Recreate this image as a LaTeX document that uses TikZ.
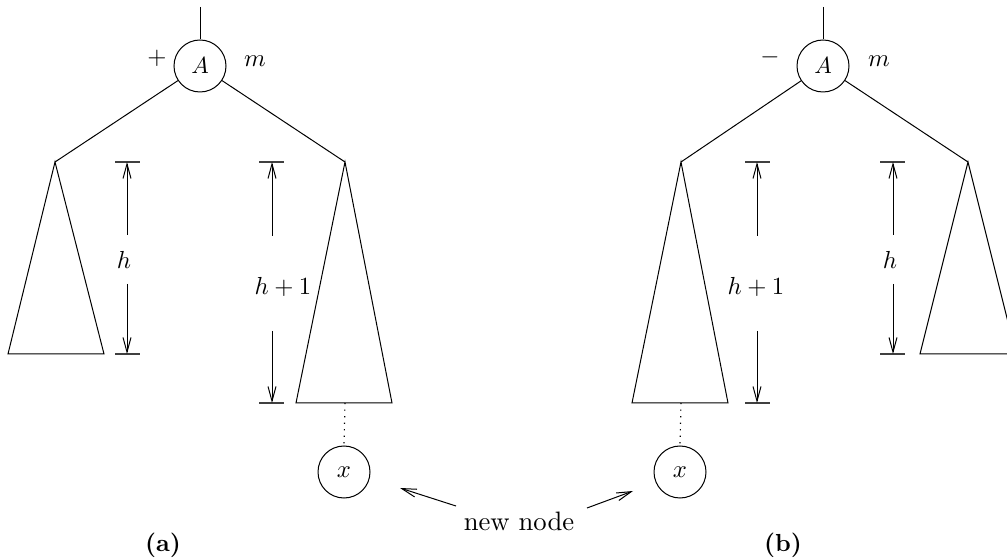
\documentclass[tikz,border=0pt]{standalone}
\usepackage{graphicx}
\usetikzlibrary{arrows.meta}
\newcommand{\mlab}[1]{\scalebox{1.85}{$#1$}}
\newcommand{\alab}[1]{\scalebox{1.75}{$#1$}}
\newcommand{\tlab}[1]{\scalebox{2.0}{#1}}
\newcommand{\blab}[1]{\scalebox{1.85}{\bfseries #1}}
\begin{document}
\begin{tikzpicture}[x=0.75pt,y=-0.75pt,
  ln/.style={line width=0.75pt},
  dots/.style={line width=0.9pt,dash pattern=on 0.9pt off 4pt},
  circ/.style={draw,circle,line width=0.75pt,minimum size=39pt,inner sep=0pt},
  tick/.style={line width=0.9pt,black!75},
  dim/.style={line width=0.75pt,-{Straight Barb[length=11pt,width=6pt]}},
  lab/.style={inner sep=1pt}]
\useasboundingbox (0,0) rectangle (1007,559);
% ---------- (a)
\node[circ] (A1) at (200,66) {\alab{A}};
\coordinate (A1top) at (200,7);
\draw[ln] (A1top) -- (A1.north);
\node[lab] (p1) at (157,58) {\mlab{+}};
\node[lab] (m1) at (255,61) {\mlab{m}};
\coordinate (La) at (55,162); \coordinate (Lb) at (8,354); \coordinate (Lc) at (104,354);
\coordinate (Ra) at (345,162); \coordinate (Rb) at (296,403); \coordinate (Rc) at (392,403);
\draw[ln] (A1) -- (La);
\draw[ln] (A1) -- (Ra);
\draw[ln] (La) -- (Lb) -- (Lc) -- cycle;
\draw[ln] (Ra) -- (Rb) -- (Rc) -- cycle;
% h
\draw[tick] (115,162) -- (140,162);
\draw[tick] (115,354) -- (140,354);
\node[lab] (h1) at (124,260) {\mlab{h}};
\coordinate (h1t) at (127,162); \coordinate (h1b) at (127,354);
\draw[dim] (127,235) -- (h1t);
\draw[dim] (127,284) -- (h1b);
% h+1
\draw[tick] (259,162) -- (284,162);
\draw[tick] (259,403) -- (284,403);
\node[lab] (h2) at (283,287) {\mlab{h+1}};
\coordinate (h2t) at (272,162); \coordinate (h2b) at (272,403);
\draw[dim] (272,236) -- (h2t);
\draw[dim] (272,331) -- (h2b);
% x
\node[circ] (x1) at (344,472) {\mlab{x}};
\coordinate (Rm) at (345,403);
\draw[dots] (Rm) -- (x1.north);
\node[lab] (la) at (163,545) {\blab{(a)}};
% ---------- (b)
\node[circ] (A2) at (823,66) {\alab{A}};
\coordinate (A2top) at (823,7);
\draw[ln] (A2top) -- (A2.north);
\node[lab] (p2) at (770,57) {\mlab{-}};
\node[lab] (m2) at (879,61) {\mlab{m}};
\coordinate (La2) at (681,162); \coordinate (Lb2) at (632,403); \coordinate (Lc2) at (728,403);
\coordinate (Ra2) at (968,162); \coordinate (Rb2) at (920,354); \coordinate (Rc2) at (1016,354);
\draw[ln] (A2) -- (La2);
\draw[ln] (A2) -- (Ra2);
\draw[ln] (La2) -- (Lb2) -- (Lc2) -- cycle;
\draw[ln] (Ra2) -- (Rb2) -- (Rc2) -- cycle;
% h+1
\draw[tick] (745,162) -- (770,162);
\draw[tick] (745,403) -- (770,403);
\node[lab] (h3) at (756,287) {\mlab{h+1}};
\coordinate (h3t) at (757,162); \coordinate (h3b) at (757,403);
\draw[dim] (757,236) -- (h3t);
\draw[dim] (757,331) -- (h3b);
% h
\draw[tick] (880,162) -- (905,162);
\draw[tick] (880,354) -- (905,354);
\node[lab] (h4) at (890,260) {\mlab{h}};
\coordinate (h4t) at (893,162); \coordinate (h4b) at (893,354);
\draw[dim] (893,235) -- (h4t);
\draw[dim] (893,284) -- (h4b);
% x
\node[circ] (x2) at (680,472) {\mlab{x}};
\coordinate (Lm2) at (681,403);
\draw[dots] (Lm2) -- (x2.north);
\node[lab] (lb) at (783,545) {\blab{(b)}};
% new node
\node[lab] (nn) at (519,521) {\tlab{new node}};
\coordinate (s1) at (456,506); \coordinate (t1) at (400,488);
\coordinate (s2) at (587,508); \coordinate (t2) at (633,491);
\draw[dim] (s1) -- (t1);
\draw[dim] (s2) -- (t2);
\end{tikzpicture}
\end{document}
